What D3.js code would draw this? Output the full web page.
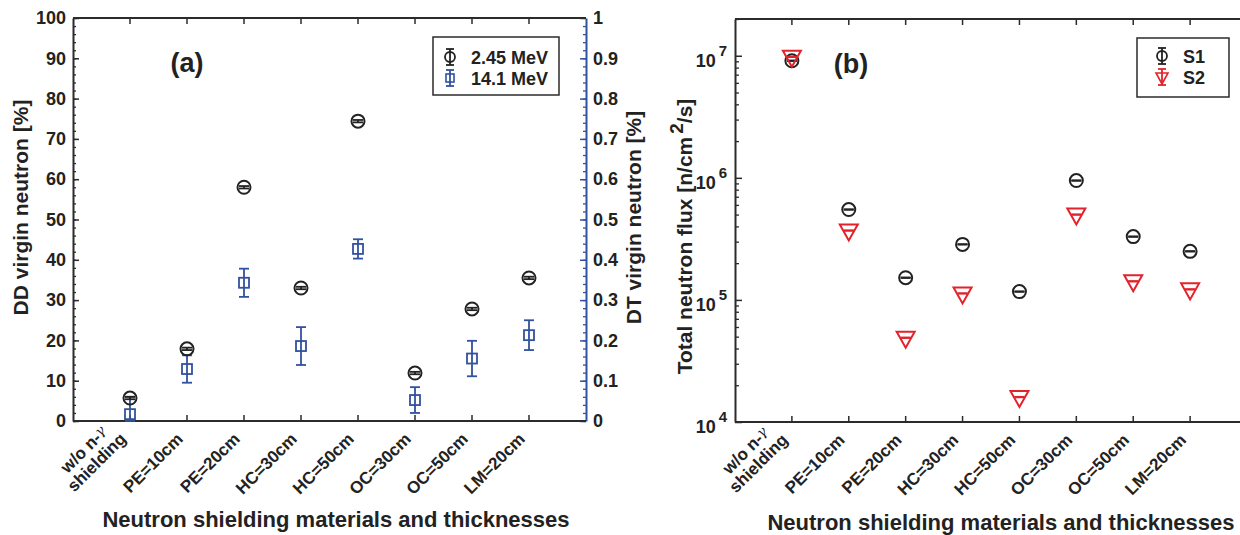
<!DOCTYPE html>
<html lang="en">
  <head>
    <meta charset="UTF-8" />
    <title>Virgin neutron fraction and total neutron flux</title>
    <script src="https://cdn.jsdelivr.net/npm/d3@7"></script>
    <style>
      body,
      html {
        margin: 0;
        padding: 0;
        background: #fff;
      }
      svg {
        display: block;
      }
      text {
        font-family: "Liberation Sans", Arial, Helvetica, sans-serif;
        font-weight: bold;
        fill: #222;
      }
    </style>
  </head>
  <body>
    <svg id="chart" width="1240" height="535"></svg>
    <script type="text/javascript">
      // ---- data ----
      const categories = [
        ["w/o n-γ", "shielding"],
        ["PE=10cm"],
        ["PE=20cm"],
        ["HC=30cm"],
        ["HC=50cm"],
        ["OC=30cm"],
        ["OC=50cm"],
        ["LM=20cm"],
      ];
      const ddVirgin = [5.7, 17.9, 58.0, 33.0, 74.4, 11.9, 27.8, 35.5];
      const ddError = [0.3, 0.3, 0.3, 0.3, 0.3, 0.3, 0.3, 0.3];
      const dtVirgin = [0.017, 0.129, 0.343, 0.186, 0.427, 0.052, 0.155, 0.213];
      const dtError = [0.043, 0.034, 0.035, 0.047, 0.024, 0.032, 0.044, 0.037];
      const fluxS1 = [9.1e6, 5.5e5, 1.52e5, 2.85e5, 1.17e5, 9.5e5, 3.3e5, 2.5e5];
      const fluxS2 = [9.8e6, 3.7e5, 4.9e4, 1.13e5, 1.6e4, 5.0e5, 1.42e5, 1.22e5];
      const ddTicks = [0, 10, 20, 30, 40, 50, 60, 70, 80, 90, 100];
      const dtTicks = [0, 0.1, 0.2, 0.3, 0.4, 0.5, 0.6, 0.7, 0.8, 0.9, 1];
      const fluxTicks = [1e4, 1e5, 1e6, 1e7];
      const legendA = ["2.45 MeV", "14.1 MeV"];
      const legendB = ["S1", "S2"];

      const BLACK = "#222";
      const AXIS = "#2b2b2b";
      const BLUE = "#3152a0";
      const RED = "#e3232b";

      const svg = d3.select("#chart");

      // draws a vertical error bar with caps
      function errorBar(g, x, y0, y1, half, color) {
        g.append("line")
          .attr("x1", x).attr("x2", x)
          .attr("y1", y0).attr("y2", y1)
          .attr("stroke", color).attr("stroke-width", 1.8);
        [y0, y1].forEach((y) =>
          g.append("line")
            .attr("x1", x - half).attr("x2", x + half)
            .attr("y1", y).attr("y2", y)
            .attr("stroke", color).attr("stroke-width", 1.8)
        );
      }

      function circleMark(g, x, y) {
        g.append("circle")
          .attr("cx", x).attr("cy", y).attr("r", 6.5)
          .attr("fill", "none").attr("stroke", BLACK).attr("stroke-width", 2);
      }
      function squareMark(g, x, y) {
        g.append("rect")
          .attr("x", x - 5).attr("y", y - 5)
          .attr("width", 10).attr("height", 10)
          .attr("fill", "none").attr("stroke", BLUE).attr("stroke-width", 1.8);
      }
      function triangleMark(g, x, y) {
        g.append("path")
          .attr("d", `M${x - 9},${y - 6}L${x + 9},${y - 6}L${x},${y + 10}Z`)
          .attr("fill", "none").attr("stroke", RED).attr("stroke-width", 2)
          .attr("stroke-linejoin", "miter");
      }

      // rotated category labels under an x axis
      function categoryLabels(g, x, yBase) {
        categories.forEach((lines, i) => {
          const lg = g.append("g")
            .attr("transform", `translate(${x(i + 1) - 3},${yBase}) rotate(-45)`);
          const last = lg.append("text")
            .attr("text-anchor", "end")
            .attr("font-size", 17)
            .text(lines[lines.length - 1]);
          if (lines.length > 1) {
            const w = last.node().getComputedTextLength();
            const t = lg.append("text")
              .attr("text-anchor", "middle")
              .attr("font-size", 17)
              .attr("x", -w / 2)
              .attr("y", -18);
            t.append("tspan").text("w/o n-");
            t.append("tspan")
              .attr("font-family", "'DejaVu Serif', serif")
              .attr("font-weight", "normal")
              .attr("font-style", "italic")
              .attr("font-size", 14)
              .attr("dy", -3)
              .text("γ");
          }
        });
      }

      function catTicks(g, x, y, dir) {
        g.selectAll(null)
          .data(categories)
          .join("line")
          .attr("x1", (d, i) => x(i + 1)).attr("x2", (d, i) => x(i + 1))
          .attr("y1", y).attr("y2", y + dir * 6)
          .attr("stroke", AXIS).attr("stroke-width", 1.5);
      }

      // ================= panel (a) =================
      const xa = d3.scaleLinear().domain([0, 9]).range([73, 586]);
      const yaL = d3.scaleLinear().domain([0, 100]).range([421, 18]);
      const yaR = d3.scaleLinear().domain([0, 1]).range([421, 18]);
      const ga = svg.append("g");

      // left axis (major + minor)
      const leftAx = ga.append("g")
        .attr("transform", `translate(${xa(0)},0)`)
        .call(d3.axisLeft(yaL).tickValues(ddTicks).tickSizeInner(-6).tickSizeOuter(0).tickPadding(7));
      leftAx.selectAll("text").attr("font-size", 18).attr("fill", BLACK);
      leftAx.select(".domain").attr("stroke", AXIS).attr("stroke-width", 2);
      leftAx.selectAll(".tick line").attr("stroke", AXIS).attr("stroke-width", 1.5);
      ga.append("g")
        .attr("transform", `translate(${xa(0)},0)`)
        .call(d3.axisLeft(yaL).ticks(50).tickSize(-3).tickFormat(""))
        .call((s) => s.select(".domain").remove())
        .selectAll("line").attr("stroke", AXIS).attr("stroke-width", 1.3);

      // right axis (blue)
      const rightAx = ga.append("g")
        .attr("transform", `translate(${xa(9)},0)`)
        .call(d3.axisRight(yaR).tickValues(dtTicks).tickFormat(d3.format("~g")).tickSizeInner(-6).tickSizeOuter(0).tickPadding(7));
      rightAx.selectAll("text").attr("font-size", 18).attr("fill", BLUE);
      rightAx.select(".domain").attr("stroke", BLUE).attr("stroke-width", 2);
      rightAx.selectAll(".tick line").attr("stroke", BLUE).attr("stroke-width", 1.5);
      ga.append("g")
        .attr("transform", `translate(${xa(9)},0)`)
        .call(d3.axisRight(yaR).ticks(50).tickSize(-3).tickFormat(""))
        .call((s) => s.select(".domain").remove())
        .selectAll("line").attr("stroke", BLUE).attr("stroke-width", 1.3);

      // top and bottom lines
      ga.append("line")
        .attr("x1", xa(0)).attr("x2", xa(9)).attr("y1", yaL(0)).attr("y2", yaL(0))
        .attr("stroke", AXIS).attr("stroke-width", 2);
      ga.append("line")
        .attr("x1", xa(0)).attr("x2", xa(9)).attr("y1", yaL(100)).attr("y2", yaL(100))
        .attr("stroke", AXIS).attr("stroke-width", 2);
      catTicks(ga, xa, yaL(0), -1);
      catTicks(ga, xa, yaL(100), 1);
      categoryLabels(ga, xa, yaL(0) + 19);

      // marks
      const marksA = ga.append("g");
      dtVirgin.forEach((v, i) => {
        const x = xa(i + 1);
        errorBar(marksA, x, yaR(Math.max(0, v - dtError[i])), yaR(v + dtError[i]), 5, BLUE);
        squareMark(marksA, x, yaR(v));
      });
      ddVirgin.forEach((v, i) => {
        const x = xa(i + 1);
        errorBar(marksA, x, yaL(v - ddError[i]), yaL(v + ddError[i]), 5, BLACK);
        circleMark(marksA, x, yaL(v));
      });

      // titles
      ga.append("text")
        .attr("transform", `translate(28,${(yaL(0) + yaL(100)) / 2 - 12}) rotate(-90)`)
        .attr("text-anchor", "middle").attr("font-size", 21)
        .text("DD virgin neutron [%]");
      ga.append("text")
        .attr("transform", `translate(641,${(yaL(0) + yaL(100)) / 2 - 2}) rotate(-90)`)
        .attr("text-anchor", "middle").attr("font-size", 21).attr("fill", BLUE)
        .text("DT virgin neutron [%]");
      ga.append("text")
        .attr("x", 336).attr("y", 527)
        .attr("text-anchor", "middle").attr("font-size", 22)
        .text("Neutron shielding materials and thicknesses");
      ga.append("text")
        .attr("x", 187).attr("y", 72)
        .attr("text-anchor", "middle").attr("font-size", 27)
        .text("(a)");

      // legend (a)
      const lgA = ga.append("g").attr("transform", "translate(433,37)");
      lgA.append("rect").attr("width", 126).attr("height", 58)
        .attr("fill", "#fff").attr("stroke", AXIS).attr("stroke-width", 1.5);
      legendA.forEach((name, i) => {
        const cy = 20 + i * 21;
        if (i === 0) {
          errorBar(lgA, 17, cy - 8, cy + 8, 4, BLACK);
          lgA.append("circle").attr("cx", 17).attr("cy", cy).attr("r", 5)
            .attr("fill", "none").attr("stroke", BLACK).attr("stroke-width", 1.8);
        } else {
          errorBar(lgA, 17, cy - 8, cy + 8, 4, BLUE);
          lgA.append("rect").attr("x", 13).attr("y", cy - 4).attr("width", 8).attr("height", 8)
            .attr("fill", "none").attr("stroke", BLUE).attr("stroke-width", 1.6);
        }
        lgA.append("text").attr("x", 38).attr("y", cy + 6.5)
          .attr("font-size", 18).text(name);
      });

      // ================= panel (b) =================
      const xb = d3.scaleLinear().domain([0, 9]).range([735, 1247]);
      const yb = d3.scaleLog().domain([1e4, 2e7]).range([422, 19]);
      const gb = svg.append("g");

      const minorB = [];
      [1e4, 1e5, 1e6, 1e7].forEach((dec) => {
        for (let k = 2; k <= 9; k++) if (dec * k <= 2e7) minorB.push(dec * k);
      });
      [xb(0), xb(9)].forEach((xp, side) => {
        const ax = side === 0 ? d3.axisLeft(yb) : d3.axisRight(yb);
        gb.append("g")
          .attr("transform", `translate(${xp},0)`)
          .call(ax.tickValues(fluxTicks).tickFormat("").tickSizeInner(-7).tickSizeOuter(0))
          .call((s) => s.select(".domain").attr("stroke", AXIS).attr("stroke-width", 2))
          .selectAll(".tick line").attr("stroke", AXIS).attr("stroke-width", 1.5);
        gb.append("g")
          .attr("transform", `translate(${xp},0)`)
          .call((side === 0 ? d3.axisLeft(yb) : d3.axisRight(yb)).tickValues(minorB).tickFormat("").tickSize(-4))
          .call((s) => s.select(".domain").remove())
          .selectAll("line").attr("stroke", AXIS).attr("stroke-width", 1.3);
      });
      // log tick labels 10^n
      fluxTicks.forEach((v) => {
        const t = gb.append("text")
          .attr("x", xb(0) - 8).attr("y", yb(v) + 11)
          .attr("text-anchor", "end").attr("font-size", 18);
        t.append("tspan").text("10");
        t.append("tspan").attr("dx", 3).attr("dy", -11).attr("font-size", 15)
          .text(Math.round(Math.log10(v)));
      });

      gb.append("line")
        .attr("x1", xb(0)).attr("x2", xb(9)).attr("y1", yb(1e4)).attr("y2", yb(1e4))
        .attr("stroke", AXIS).attr("stroke-width", 2);
      gb.append("line")
        .attr("x1", xb(0)).attr("x2", xb(9)).attr("y1", yb(2e7)).attr("y2", yb(2e7))
        .attr("stroke", AXIS).attr("stroke-width", 2);
      catTicks(gb, xb, yb(1e4), -1);
      catTicks(gb, xb, yb(2e7), 1);
      categoryLabels(gb, xb, yb(1e4) + 19);

      const marksB = gb.append("g");
      fluxS1.forEach((v, i) => {
        const x = xb(i + 1);
        errorBar(marksB, x, yb(v * 0.995), yb(v * 1.005), 5, BLACK);
        circleMark(marksB, x, yb(v));
      });
      fluxS2.forEach((v, i) => {
        const x = xb(i + 1);
        errorBar(marksB, x, yb(v * 0.995), yb(v * 1.005), 5, RED);
        triangleMark(marksB, x, yb(v));
      });

      const yLab = gb.append("text")
        .attr("transform", `translate(692,${(yb(1e4) + yb(2e7)) / 2 + 16}) rotate(-90)`)
        .attr("text-anchor", "middle").attr("font-size", 21);
      yLab.append("tspan").text("Total neutron flux [n/cm");
      yLab.append("tspan").attr("dx", 3).attr("dy", -9).attr("font-size", 19).text("2");
      yLab.append("tspan").attr("dy", 9).text("/s]");
      gb.append("text")
        .attr("x", 1001).attr("y", 530)
        .attr("text-anchor", "middle").attr("font-size", 22)
        .text("Neutron shielding materials and thicknesses");
      gb.append("text")
        .attr("x", 851).attr("y", 73)
        .attr("text-anchor", "middle").attr("font-size", 27)
        .text("(b)");

      // legend (b)
      const lgB = gb.append("g").attr("transform", "translate(1137,38)");
      lgB.append("rect").attr("width", 92).attr("height", 59)
        .attr("fill", "#fff").attr("stroke", AXIS).attr("stroke-width", 1.5);
      legendB.forEach((name, i) => {
        const cy = 18 + i * 21;
        const x0 = 25;
        if (i === 0) {
          errorBar(lgB, x0, cy - 8, cy + 8, 4, BLACK);
          lgB.append("circle").attr("cx", x0).attr("cy", cy).attr("r", 5)
            .attr("fill", "none").attr("stroke", BLACK).attr("stroke-width", 1.8);
        } else {
          errorBar(lgB, x0, cy - 8, cy + 8, 4, RED);
          lgB.append("path")
            .attr("d", `M${x0 - 6},${cy - 4}L${x0 + 6},${cy - 4}L${x0},${cy + 7}Z`)
            .attr("fill", "none").attr("stroke", RED).attr("stroke-width", 1.6);
        }
        lgB.append("text").attr("x", 46).attr("y", cy + 6.5)
          .attr("font-size", 18).text(name);
      });
    </script>
  </body>
</html>
